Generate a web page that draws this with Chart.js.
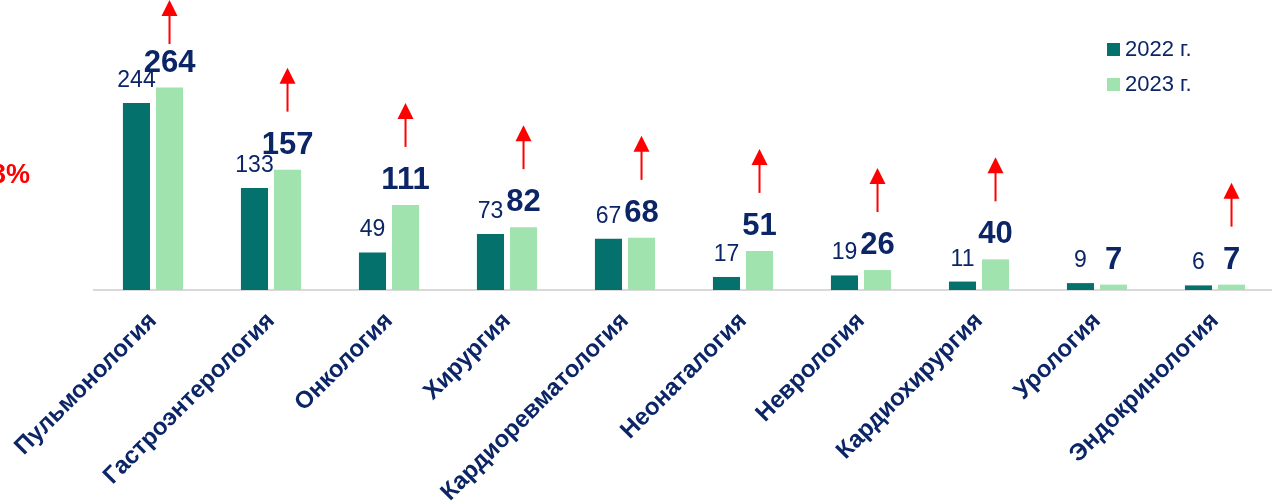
<!DOCTYPE html>
<html>
<head>
<meta charset="utf-8">
<script src="https://cdn.jsdelivr.net/npm/chart.js@4.4.0/dist/chart.umd.min.js"></script>
<style>
  html, body { margin: 0; padding: 0; background: #fff; overflow: hidden; }
  #wrap { width: 1290px; height: 504px; position: relative; }
</style>
</head>
<body>
<div id="wrap"><canvas id="chart"></canvas></div>
<script>
const categories = [
    'Пульмонология',
    'Гастроэнтерология',
    'Онкология',
    'Хирургия',
    'Кардиоревматология',
    'Неонаталогия',
    'Неврология',
    'Кардиохирургия',
    'Урология',
    'Эндокринология'
];
const values2022 = [244, 133, 49, 73, 67, 17, 19, 11, 9, 6];
const values2023 = [264, 157, 111, 82, 68, 51, 26, 40, 7, 7];
const seriesNames = ['2022 г.', '2023 г.'];
const sideNote = '13%';

const NAVY = '#0b2566';
const DARK = '#05716c';
const LIGHT = '#a0e3af';
const RED = '#ff0000';
const FONT = '"Liberation Sans", Arial, sans-serif';

// value labels above each bar + red arrows where 2023 grew
const barLabels = {
    id: 'barLabels',
    afterDatasetsDraw(chart) {
        const c = chart.ctx;
        c.save();
        c.fillStyle = NAVY;
        c.textAlign = 'center';
        c.textBaseline = 'alphabetic';
        chart.data.datasets.forEach((ds, di) => {
            const meta = chart.getDatasetMeta(di);
            c.font = di === 0 ? '23px ' + FONT : 'bold 31px ' + FONT;
            meta.data.forEach((bar, i) => {
                c.fillText(ds.data[i], bar.x, bar.y - 16);
            });
        });

        const meta1 = chart.getDatasetMeta(1);
        meta1.data.forEach((bar, i) => {
            if (values2023[i] <= values2022[i]) return;
            const bottom = Math.max(bar.y - 58, 44);
            const top = bottom - 44;
            c.strokeStyle = RED;
            c.lineWidth = 2;
            c.beginPath();
            c.moveTo(bar.x, bottom);
            c.lineTo(bar.x, top + 14);
            c.stroke();
            c.fillStyle = RED;
            c.beginPath();
            c.moveTo(bar.x, top);
            c.lineTo(bar.x - 8, top + 16);
            c.lineTo(bar.x + 8, top + 16);
            c.closePath();
            c.fill();
        });

        c.fillStyle = RED;
        c.textAlign = 'right';
        c.font = 'bold 27px ' + FONT;
        c.fillText(sideNote, 30, 183);
        c.restore();
    }
};

// legend in the top right corner
const cornerLegend = {
    id: 'cornerLegend',
    afterDraw(chart) {
        const c = chart.ctx;
        const colors = [DARK, LIGHT];
        c.save();
        c.font = '22px ' + FONT;
        c.textBaseline = 'middle';
        c.textAlign = 'left';
        seriesNames.forEach((name, i) => {
            const y = 49 + i * 35;
            c.fillStyle = colors[i];
            c.fillRect(1107, y - 6, 13, 13);
            c.fillStyle = NAVY;
            c.fillText(name, 1125, y + 1);
        });
        c.restore();
    }
};

new Chart(document.getElementById('chart'), {
    type: 'bar',
    data: {
        labels: categories,
        datasets: [{
            label: seriesNames[0],
            data: values2022,
            backgroundColor: DARK,
            categoryPercentage: 0.56,
            barPercentage: 0.82
        }, {
            label: seriesNames[1],
            data: values2023,
            backgroundColor: LIGHT,
            categoryPercentage: 0.56,
            barPercentage: 0.82
        }]
    },
    options: {
        responsive: true,
        maintainAspectRatio: false,
        animation: false,
        layout: { padding: { left: 94, right: 16, top: 60, bottom: 0 } },
        plugins: {
            legend: { display: false },
            tooltip: { enabled: false }
        },
        scales: {
            x: {
                grid: { display: false, drawTicks: false },
                border: { display: true, color: '#d9d9d9', width: 2 },
                ticks: {
                    color: NAVY,
                    font: { family: FONT, size: 24, weight: 'bold' },
                    maxRotation: 45,
                    minRotation: 45,
                    autoSkip: false,
                    padding: 17
                },
                afterFit(scale) {
                    scale.height = 214;
                    scale.paddingLeft = 0;
                    scale.paddingRight = 0;
                }
            },
            y: {
                display: false,
                min: 0,
                max: 300
            }
        }
    },
    plugins: [barLabels, cornerLegend]
});
</script>
</body>
</html>
